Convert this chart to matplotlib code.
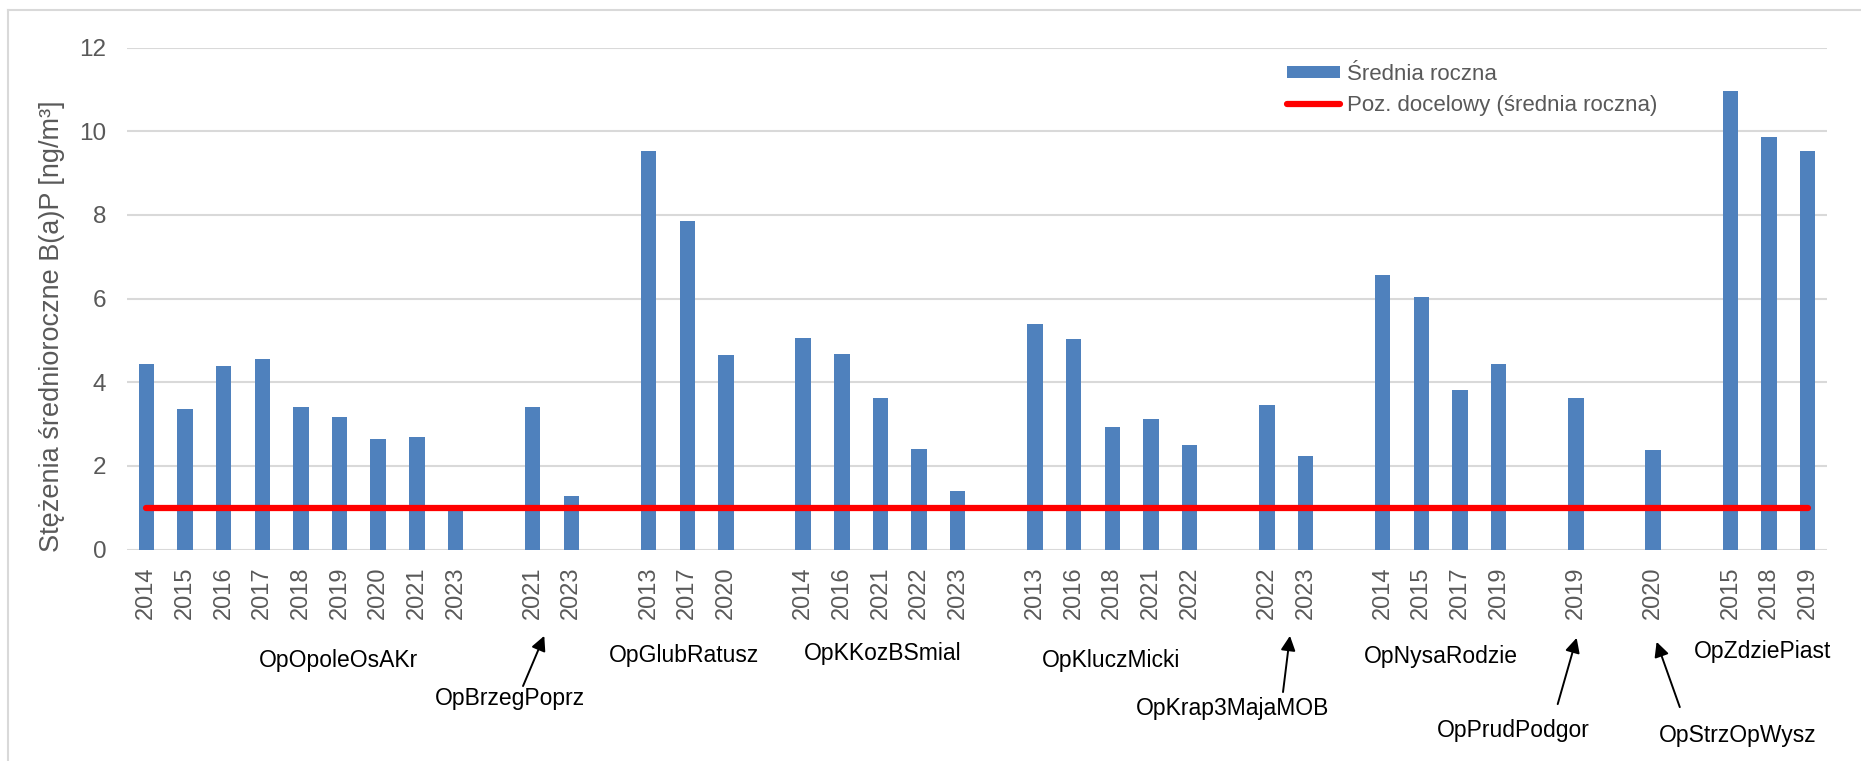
import numpy as np
import matplotlib
matplotlib.use("Agg")
import matplotlib.pyplot as plt
from matplotlib.lines import Line2D

plt.rcParams["font.family"] = ["Liberation Sans", "DejaVu Sans"]

# stations and their measurement years
stations = ["OpOpoleOsAKr", "OpBrzegPoprz", "OpGlubRatusz", "OpKKozBSmial",
            "OpKluczMicki", "OpKrap3MajaMOB", "OpNysaRodzie", "OpPrudPodgor",
            "OpStrzOpWysz", "OpZdziePiast"]
years = [
    [2014, 2015, 2016, 2017, 2018, 2019, 2020, 2021, 2023],
    [2021, 2023],
    [2013, 2017, 2020],
    [2014, 2016, 2021, 2022, 2023],
    [2013, 2016, 2018, 2021, 2022],
    [2022, 2023],
    [2014, 2015, 2017, 2019],
    [2019],
    [2020],
    [2015, 2018, 2019],
]
# annual mean B(a)P, ng/m3
values = [
    [4.43, 3.37, 4.38, 4.56, 3.41, 3.16, 2.64, 2.69, 0.95],
    [3.40, 1.27],
    [9.52, 7.85, 4.65],
    [5.05, 4.68, 3.61, 2.40, 1.40],
    [5.38, 5.04, 2.92, 3.13, 2.49],
    [3.45, 2.24],
    [6.57, 6.03, 3.82, 4.43],
    [3.61],
    [2.38],
    [10.96, 9.87, 9.52],
]
target = 1.0

# station label placement: x in category slots, y in axes fraction
label_x = [4.97, 9.42, 13.92, 19.07, 24.97, 28.12, 33.5, 35.37, 41.2, 41.84]
label_y = [-0.222, -0.296, -0.212, -0.208, -0.222, -0.316, -0.214, -0.360, -0.371, -0.204]
# arrows for stations whose label sits away from the bars: (tail, head)
arrows = {
    "OpBrzegPoprz": ((9.75, -0.272), (10.30, -0.172)),
    "OpKrap3MajaMOB": ((29.42, -0.284), (29.60, -0.172)),
    "OpPrudPodgor": ((36.53, -0.308), (37.02, -0.176)),
    "OpStrzOpWysz": ((39.69, -0.314), (39.09, -0.184)),
}

# one empty slot between stations
x, heights, ticks = [], [], []
pos = 0
for yrs, vals in zip(years, values):
    for yr, v in zip(yrs, vals):
        x.append(pos)
        heights.append(v)
        ticks.append(str(yr))
        pos += 1
    pos += 1
x = np.array(x)

W, H = 1861, 761
fig = plt.figure(figsize=(W / 100, H / 100), dpi=100)
ax = fig.add_axes([127 / W, 1 - 549.5 / H, 1700 / W, 502 / H])

gray = "#595959"
bars = ax.bar(x, heights, width=0.4, color="#4F81BD", label="Średnia roczna", zorder=2)
line, = ax.plot([x[0], x[-1]], [target, target], color="#FF0000", lw=4.5,
                solid_capstyle="round", label="Poz. docelowy (średnia roczna)", zorder=3)

ax.set_xlim(-0.5, x[-1] + 0.5)
ax.set_ylim(0, 12)
ax.set_yticks(np.arange(0, 13, 2))
ax.set_xticks(x)
ax.set_xticklabels(ticks, rotation=90, fontsize=17, color=gray)
ax.tick_params(axis="x", length=0, pad=12)
ax.tick_params(axis="y", length=0, pad=15, labelsize=17.5, labelcolor=gray)
ax.grid(axis="y", color="#D9D9D9", lw=1.5)
ax.set_axisbelow(True)
for s in ax.spines.values():
    s.set_visible(False)

ax.set_ylabel("Stężenia średnioroczne B(a)P [ng/m³]", fontsize=19.5, color=gray)
ax.yaxis.set_label_coords(-0.0365, 0.445)

tr = ax.get_xaxis_transform()
for name, lx, ly in zip(stations, label_x, label_y):
    ax.text(lx, ly, name, transform=tr, ha="center", va="center",
            fontsize=16.5, color="black", clip_on=False)
for name, (tail, head) in arrows.items():
    ax.annotate("", xy=head, xycoords=tr, xytext=tail, textcoords=tr,
                arrowprops=dict(arrowstyle="-|>", color="black", lw=1.4,
                                mutation_scale=22, shrinkA=0, shrinkB=0))

ax.legend([bars, line], [bars.get_label(), line.get_label()],
          loc="upper left", bbox_to_anchor=(1287 / W, 1 - 64 / H),
          bbox_transform=fig.transFigure, frameon=False, fontsize=16,
          labelcolor=gray, borderpad=0, borderaxespad=0, handlelength=2.4,
          handleheight=0.45, handletextpad=0.3, labelspacing=0.45)

# chart border
fig.add_artist(Line2D([8 / W, 1], [1 - 10 / H, 1 - 10 / H], color="#D9D9D9", lw=1.5))
fig.add_artist(Line2D([8 / W, 8 / W], [0, 1 - 10 / H], color="#D9D9D9", lw=1.5))

fig.savefig("out.png", dpi=100)
